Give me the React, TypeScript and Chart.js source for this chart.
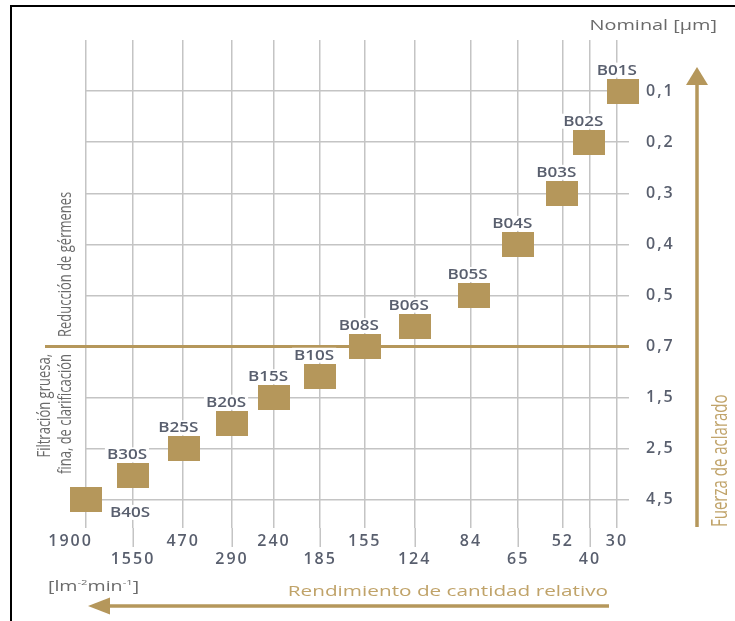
import React, { useEffect, useRef } from 'react';
import { Chart, registerables } from 'chart.js';

Chart.register(...registerables);

// ---- data ----
const productCodes = ['B40S', 'B30S', 'B25S', 'B20S', 'B15S', 'B10S', 'B08S', 'B06S', 'B05S', 'B04S', 'B03S', 'B02S', 'B01S'];
const yieldLabels = ['1900', '1550', '470', '290', '240', '185', '155', '124', '84', '65', '52', '40', '30'];
// relative position of each yield column on the horizontal axis
const yieldColumnPos = [0, 0.885, 1.83, 2.75, 3.54, 4.41, 5.25, 6.19, 7.25, 8.14, 8.98, 9.49, 10];
// position of each product on the horizontal axis
const productColumnPos = [0, 0.885, 1.85, 2.75, 3.54, 4.41, 5.25, 6.19, 7.3, 8.14, 8.97, 9.48, 10.11];
const nominalLabels = ['0,1', '0,2', '0,3', '0,4', '0,5', '0,7', '1,5', '2,5', '4,5'];
// row (index into nominalLabels) of each product
const productNominalRow = [8, 7.53, 7, 6.5, 6, 5.58, 5, 4.6, 4, 3, 2, 1, 0];
const labelPlacement = ['below', 'above', 'above', 'above', 'above', 'above', 'above', 'above', 'above', 'above', 'above', 'above', 'above'];
const separatorRow = 5; // 0,7 µm

// ---- styles ----
const GOLD = '#b5975b';
const GOLD_TEXT = '#c0a369';
const GRID = '#c4c4c4';
const LABEL = '#595f6e';
const TEXT_GRAY = '#6a6a6a';
const FONT = '"Open Sans", sans-serif';

function drawStretched(ctx: CanvasRenderingContext2D, text: string, x: number, y: number, size: number, color: string, align: CanvasTextAlign, sx: number, weight = '400') {
  ctx.save();
  (ctx as any).letterSpacing = '0px';
  ctx.font = `${weight} ${size}px ${FONT}`;
  ctx.fillStyle = color;
  ctx.textBaseline = 'alphabetic';
  ctx.textAlign = align;
  ctx.translate(x, y);
  ctx.scale(sx, 1);
  ctx.fillText(text, 0, 0);
  ctx.restore();
}

function drawVertical(ctx: CanvasRenderingContext2D, text: string, x: number, y: number, size: number, color: string, align: CanvasTextAlign, sy: number) {
  ctx.save();
  (ctx as any).letterSpacing = '0px';
  ctx.font = `${size}px ${FONT}`;
  ctx.fillStyle = color;
  ctx.textBaseline = 'alphabetic';
  ctx.textAlign = align;
  ctx.translate(x, y);
  ctx.rotate(-Math.PI / 2);
  ctx.scale(1, sy);
  ctx.fillText(text, 0, 0);
  ctx.restore();
}

function measureStretched(ctx: CanvasRenderingContext2D, text: string, size: number, sx: number, weight = '400') {
  ctx.save();
  (ctx as any).letterSpacing = '0px';
  ctx.font = `${weight} ${size}px ${FONT}`;
  const w = ctx.measureText(text).width * sx;
  ctx.restore();
  return w;
}

const spacingPlugin = {
  id: 'spacing',
  beforeLayout(chart: any) { chart.ctx.letterSpacing = '2px'; },
  beforeDraw(chart: any) { chart.ctx.letterSpacing = '2px'; },
};

const decorPlugin = {
  id: 'decor',
  beforeDatasetsDraw(chart: any) {
    const ctx: CanvasRenderingContext2D = chart.ctx;
    const { x, y } = chart.scales;
    const area = chart.chartArea;
    ctx.save();
    // extension of the separator line to the left
    const sy = y.getPixelForValue(separatorRow);
    ctx.strokeStyle = GOLD;
    ctx.lineWidth = 3;
    ctx.beginPath();
    ctx.moveTo(45, sy);
    ctx.lineTo(area.left, sy);
    ctx.stroke();
    // longer tick lines for the staggered (lower) labels
    ctx.strokeStyle = GRID;
    ctx.lineWidth = 1.5;
    yieldColumnPos.forEach((p, i) => {
      if (i % 2 === 1) {
        const px = Math.round(x.getPixelForValue(p)) + 0.25;
        ctx.beginPath();
        ctx.moveTo(px, area.bottom);
        ctx.lineTo(px, area.bottom + 19);
        ctx.stroke();
      }
    });
    ctx.restore();
  },
  afterDatasetsDraw(chart: any) {
    const ctx: CanvasRenderingContext2D = chart.ctx;
    const meta = chart.getDatasetMeta(0);
    meta.data.forEach((pt: any, i: number) => {
      const below = labelPlacement[i] === 'below';
      const cx = below ? pt.x + 44 : pt.x - 6;
      const by = below ? pt.y + 17 : pt.y - 16.5;
      const w = measureStretched(ctx, productCodes[i], 14, 1.22, '600');
      ctx.save();
      ctx.fillStyle = '#ffffff';
      ctx.fillRect(cx - w / 2 - 2, by - 12, w + 4, 15);
      ctx.restore();
      drawStretched(ctx, productCodes[i], cx, by, 14, LABEL, 'center', 1.22, '600');
    });
  },
  afterDraw(chart: any) {
    const ctx: CanvasRenderingContext2D = chart.ctx;
    ctx.save();
    // frame
    ctx.fillStyle = '#000000';
    ctx.fillRect(10, 5, 2, 616);
    ctx.fillRect(10, 5, 725, 2);

    // right arrow
    ctx.strokeStyle = GOLD;
    ctx.fillStyle = GOLD;
    ctx.lineWidth = 3.5;
    ctx.beginPath();
    ctx.moveTo(697, 527);
    ctx.lineTo(697, 80);
    ctx.stroke();
    ctx.beginPath();
    ctx.moveTo(697, 67);
    ctx.lineTo(708, 85);
    ctx.lineTo(686, 85);
    ctx.closePath();
    ctx.fill();

    // bottom arrow
    ctx.beginPath();
    ctx.moveTo(609, 606);
    ctx.lineTo(105, 606);
    ctx.stroke();
    ctx.beginPath();
    ctx.moveTo(88, 606);
    ctx.lineTo(110, 597.5);
    ctx.lineTo(110, 614.5);
    ctx.closePath();
    ctx.fill();
    ctx.restore();

    // texts
    drawStretched(ctx, 'Nominal [µm]', 717, 30, 14, TEXT_GRAY, 'right', 1.42);
    drawStretched(ctx, 'Rendimiento de cantidad relativo', 608, 596, 14.5, GOLD_TEXT, 'right', 1.43);
    drawVertical(ctx, 'Fuerza de aclarado', 727, 527, 15, GOLD_TEXT, 'left', 1.4);
    drawVertical(ctx, 'Reducción de gérmenes', 71, 337, 13, TEXT_GRAY, 'left', 1.4);
    drawVertical(ctx, 'Filtración gruesa,', 50, 354, 13, TEXT_GRAY, 'right', 1.4);
    drawVertical(ctx, 'fina, de clarificación', 71, 354, 13, TEXT_GRAY, 'right', 1.4);

    // unit label [lm-2min-1]
    let ux = 48;
    const ub = 591;
    const parts: [string, boolean][] = [['[lm', false], ['-2', true], ['min', false], ['-1', true], [']', false]];
    parts.forEach(([t, sup]) => {
      const size = sup ? 8 : 14;
      drawStretched(ctx, t, ux, sup ? ub - 6 : ub, size, TEXT_GRAY, 'left', 1.4);
      ux += measureStretched(ctx, t, size, 1.4);
    });
  },
};

function makeSquare(): HTMLCanvasElement {
  const c = document.createElement('canvas');
  c.width = 32;
  c.height = 25;
  const g = c.getContext('2d')!;
  g.fillStyle = GOLD;
  g.fillRect(0, 0, 32, 25);
  return c;
}

export default function App() {
  const ref = useRef<HTMLCanvasElement | null>(null);
  useEffect(() => {
    if (!ref.current) return;
    const square = makeSquare();
    const chart = new Chart(ref.current, {
      type: 'scatter',
      data: {
        datasets: [
          {
            data: productColumnPos.map((px, i) => ({ x: px, y: productNominalRow[i] })),
            pointStyle: square as any,
            pointRadius: 16,
            clip: false as any,
          },
        ],
      },
      options: {
        responsive: false,
        animation: false,
        events: [],
        layout: { padding: { left: 86, top: 40, right: 0, bottom: 33 } },
        plugins: { legend: { display: false }, tooltip: { enabled: false } },
        scales: {
          x: {
            type: 'linear',
            position: 'bottom',
            min: 0,
            max: 10,
            afterBuildTicks: (s: any) => {
              s.ticks = yieldColumnPos.map((v) => ({ value: v }));
            },
            afterFit: (s: any) => {
              s.height = 60;
            },
            grid: { color: GRID, lineWidth: 1.5, drawTicks: false },
            border: { display: false },
            ticks: {
              autoSkip: false,
              maxRotation: 0,
              minRotation: 0,
              padding: 5,
              color: LABEL,
              font: { family: FONT, size: 16, weight: '600', lineHeight: 1.1 },
              callback: (_v: any, i: number) =>
                i === 0 ? yieldLabels[i] + '     ' : i % 2 === 1 ? ['', yieldLabels[i]] : yieldLabels[i],
            },
          },
          y: {
            type: 'linear',
            position: 'right',
            reverse: true,
            min: -1,
            max: 8.55,
            afterBuildTicks: (s: any) => {
              s.ticks = nominalLabels.map((_, i) => ({ value: i }));
            },
            afterFit: (s: any) => {
              s.width = 118;
            },
            grid: {
              color: (c: any) => (c.tick && c.tick.value === separatorRow ? GOLD : GRID),
              lineWidth: (c: any) => (c.tick && c.tick.value === separatorRow ? 3 : 1.5),
              drawTicks: true,
              tickLength: 12,
            },
            border: { display: false },
            ticks: {
              padding: 17,
              color: LABEL,
              font: { family: FONT, size: 16, weight: '600' },
              callback: (_v: any, i: number) => nominalLabels[i],
            },
          },
        },
      },
      plugins: [spacingPlugin, decorPlugin],
    });
    return () => chart.destroy();
  }, []);
  return (
    <div style={{ position: 'fixed', left: 0, top: 0, width: 735, height: 621, background: '#ffffff' }}>
      <canvas ref={ref} width={735} height={621} style={{ display: 'block', width: 735, height: 621 }} />
    </div>
  );
}
